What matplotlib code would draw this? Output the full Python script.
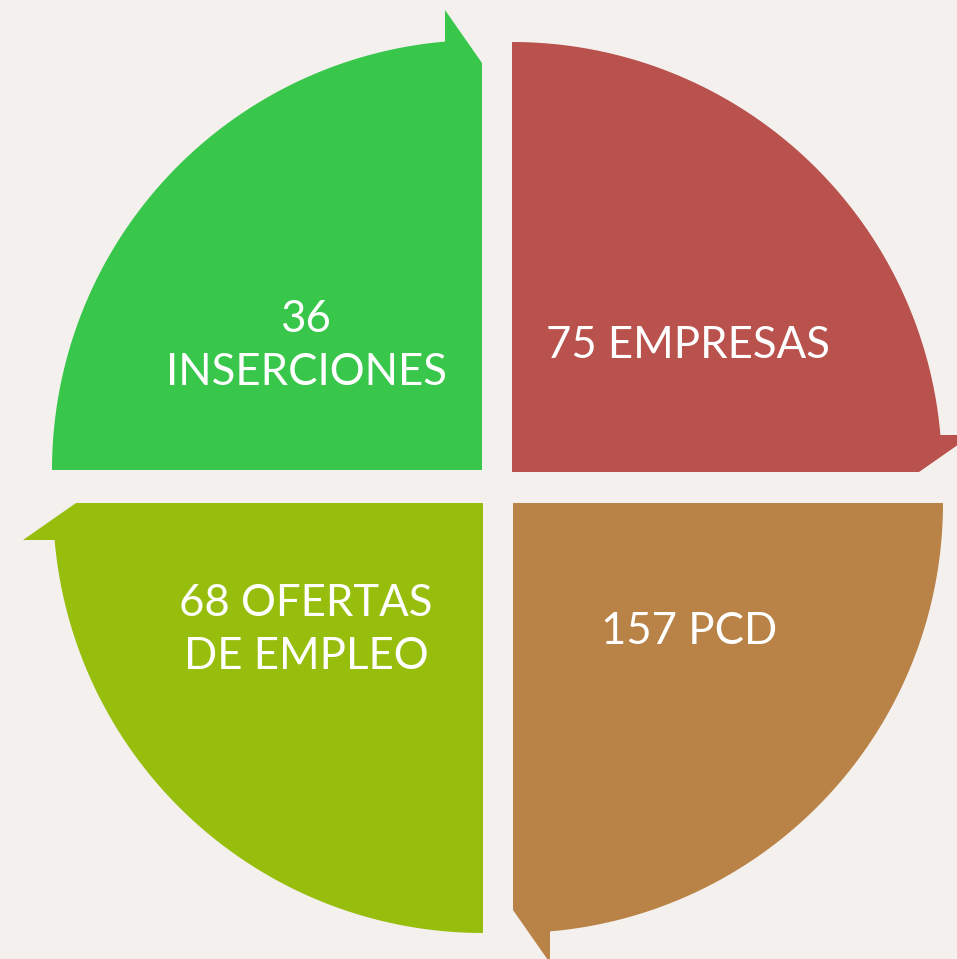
import numpy as np
import matplotlib
matplotlib.use("Agg")
import matplotlib.pyplot as plt
from matplotlib.patches import Polygon

# Data
values = [36, 75, 157, 68]
labels = ["36\nINSERCIONES", "75 EMPRESAS", "157 PCD", "68 OFERTAS\nDE EMPLEO"]
colors = ["#38C74A", "#B9514D", "#B98246", "#97BE0C"]

# Layout (pixel coordinates)
W, H = 957, 959
corners = [(482, 470), (512, 472), (513, 503), (483, 503)]
label_pos = [(306, 346), (688, 345), (689, 632), (306, 630)]
R = 430
tip_out = 30
tip_off = 37
bg = "#F4F0EE"

fig = plt.figure(figsize=(W / 100, H / 100), dpi=100, facecolor=bg)
ax = fig.add_axes([0, 0, 1, 1])
ax.set_xlim(0, W)
ax.set_ylim(H, 0)
ax.axis("off")
ax.set_facecolor(bg)


def shape_local():
    t_end = np.pi / 2 + np.arcsin(tip_off / R)
    t = np.linspace(np.pi, t_end, 120)
    pts = list(zip(R * np.cos(t), R * np.sin(t)))
    pts.append((-tip_off, R + tip_out))
    pts.append((0, R - 23))
    pts.append((0, 0))
    return np.array(pts)


base = shape_local()
for k, (c, col) in enumerate(zip(corners, colors)):
    phi = np.deg2rad(90 * k)
    x = base[:, 0] * np.cos(phi) + base[:, 1] * np.sin(phi)
    y = -base[:, 0] * np.sin(phi) + base[:, 1] * np.cos(phi)
    X = c[0] + x
    Y = c[1] - y
    ax.add_patch(Polygon(np.column_stack([X, Y]), closed=True, facecolor=col,
                         edgecolor="none"))

for (px, py), lab in zip(label_pos, labels):
    ax.text(px, py, lab, ha="center", va="center", color="white",
            fontsize=31.5, family="Lato", linespacing=1.36)

fig.savefig("out.png", dpi=100, facecolor=bg)
